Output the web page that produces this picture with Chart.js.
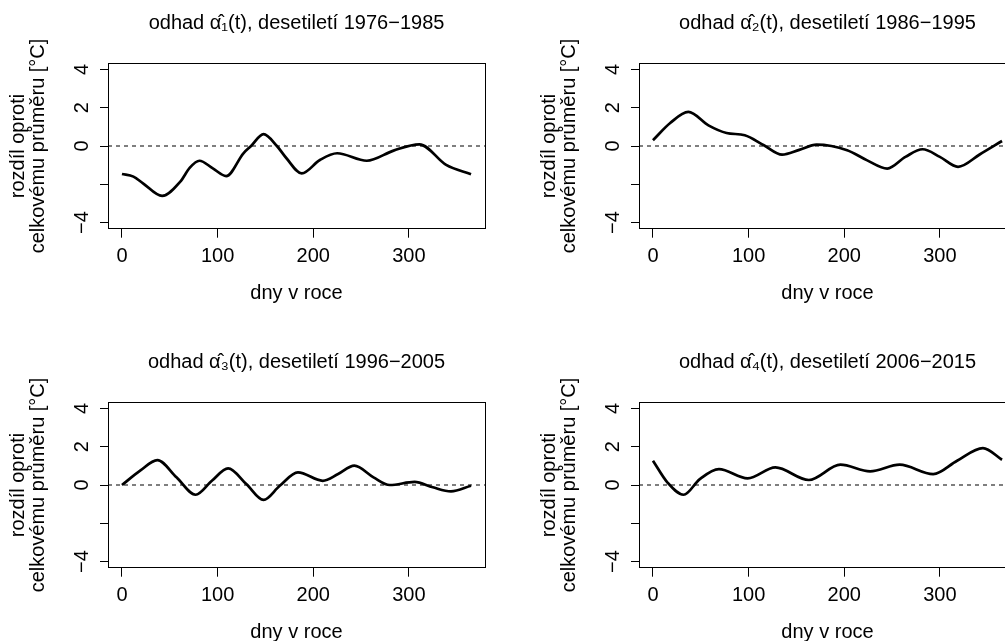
<!DOCTYPE html>
<html>
<head>
<meta charset="utf-8">
<script src="https://cdn.jsdelivr.net/npm/chart.js@4.4.0/dist/chart.umd.min.js"></script>
<style>
  html, body { margin: 0; padding: 0; background: #fff; overflow: hidden; width: 1005px; height: 641px; }
  canvas { position: absolute; }
</style>
</head>
<body>
<canvas id="graf1" width="531" height="320" style="left:0px;top:0px"></canvas>
<canvas id="graf2" width="531" height="320" style="left:531px;top:0px"></canvas>
<canvas id="graf3" width="531" height="320" style="left:0px;top:339px"></canvas>
<canvas id="graf4" width="531" height="320" style="left:531px;top:339px"></canvas>
<script>
// odhady: den v roce -> rozdil oproti prumeru [°C]
const dny1   = [0, 12, 22, 42, 61, 71, 81, 95, 109, 127, 135, 148, 162, 172, 188, 207, 225, 256, 284, 311, 339, 365];
const odhad1 = [-1.46, -1.6, -1.95, -2.61, -1.86, -1.13, -0.77, -1.17, -1.57, -0.38, 0.0, 0.62, 0.0, -0.64, -1.43, -0.73, -0.38, -0.77, -0.24, 0.09, -0.99, -1.48];

const dny2   = [0, 18, 37, 58, 77, 96, 116, 135, 153, 171, 203, 224, 245, 264, 282, 300, 319, 342, 365];
const odhad2 = [0.30, 1.2, 1.78, 1.08, 0.68, 0.56, 0.04, -0.45, -0.2, 0.07, -0.22, -0.75, -1.18, -0.57, -0.17, -0.57, -1.09, -0.43, 0.26];

const dny3   = [0, 19, 37, 57, 77, 94, 111, 130, 148, 165, 184, 210, 226, 243, 263, 280, 306, 325, 344, 365];
const odhad3 = [0.0, 0.75, 1.30, 0.40, -0.51, 0.22, 0.87, 0.05, -0.78, -0.04, 0.66, 0.22, 0.57, 1.01, 0.40, 0.0, 0.16, -0.12, -0.33, -0.04];

const dny4   = [0, 15, 32, 49, 69, 99, 128, 163, 196, 227, 258, 293, 318, 345, 365];
const odhad4 = [1.27, 0.14, -0.51, 0.31, 0.83, 0.35, 0.92, 0.26, 1.06, 0.71, 1.06, 0.57, 1.27, 1.93, 1.32];

const titulky = [
  "odhad \u03B1\u0302\u2081(t), desetiletí 1976\u22121985",
  "odhad \u03B1\u0302\u2082(t), desetiletí 1986\u22121995",
  "odhad \u03B1\u0302\u2083(t), desetiletí 1996\u22122005",
  "odhad \u03B1\u0302\u2084(t), desetiletí 2006\u22122015"
];

const xTicks = [0, 100, 200, 300];
const yTicks = [-4, -2, 0, 2, 4];
const xLimity = [-14.6, 379.6];
const yLimity = [-4.32, 4.32];

Chart.defaults.font.family = "'Liberation Sans', Arial, Helvetica, sans-serif";
Chart.defaults.font.size = 20;
Chart.defaults.color = "#000";

// ramecek kolem plochy grafu (jako box() v R)
const ramecek = {
  id: "ramecek",
  afterDatasetsDraw(chart) {
    const a = chart.chartArea;
    const ctx = chart.ctx;
    ctx.save();
    ctx.strokeStyle = "#000";
    ctx.lineWidth = 1;
    ctx.strokeRect(Math.round(a.left) + 0.5, Math.round(a.top) + 0.5,
                   Math.round(a.right - a.left), Math.round(a.bottom - a.top));
    ctx.restore();
  }
};

function nakresli(id, dny, hodnoty, titulek) {
  const body = dny.map((d, i) => ({ x: d, y: hodnoty[i] }));

  return new Chart(id, {
    type: "line",
    data: {
      datasets: [
        {
          // prerusovana nula
          data: xLimity.map(x => ({ x: x, y: 0 })),
          borderColor: "#000",
          borderWidth: 1,
          borderDash: [4, 4],
          pointRadius: 0
        },
        {
          data: body,
          borderColor: "#000",
          borderWidth: 2.7,
          pointRadius: 0,
          cubicInterpolationMode: "monotone"
        }
      ]
    },
    options: {
      responsive: false,
      animation: false,
      layout: { padding: { right: 46 } },
      plugins: {
        legend: { display: false },
        tooltip: { enabled: false },
        title: {
          display: true,
          text: titulek,
          fullSize: false,
          color: "#000",
          font: { size: 20, weight: "normal", lineHeight: 1.2 },
          padding: { top: 11.7, bottom: 27.6 }
        }
      },
      scales: {
        x: {
          type: "linear",
          min: xLimity[0],
          max: xLimity[1],
          afterBuildTicks: s => { s.ticks = xTicks.map(v => ({ value: v })); },
          afterFit: s => { s.height = 91.3; },
          grid: { drawOnChartArea: false, drawTicks: true, tickLength: 9, color: "#000" },
          border: { display: true, color: "#000" },
          ticks: { padding: 6.8, maxRotation: 0, autoSkip: false },
          title: { display: true, text: "dny v roce", padding: { top: 0, bottom: 14.7 } }
        },
        y: {
          type: "linear",
          min: yLimity[0],
          max: yLimity[1],
          afterBuildTicks: s => { s.ticks = yTicks.map(v => ({ value: v })); },
          afterFit: s => { s.width = 108; },
          grid: { drawOnChartArea: false, drawTicks: true, tickLength: 8, color: "#000" },
          border: { display: true, color: "#000" },
          ticks: {
            minRotation: 90,
            maxRotation: 90,
            crossAlign: "center",
            padding: 6,
            autoSkip: false,
            callback: v => v === -2 ? "" : String(v).replace("-", "\u2212")
          },
          title: {
            display: true,
            text: ["rozdíl oproti", "celkovému průměru [°C]"],
            font: { size: 20, lineHeight: 1.0 },
            padding: { top: 8, bottom: 0 }
          }
        }
      }
    },
    plugins: [ramecek]
  });
}

nakresli("graf1", dny1, odhad1, titulky[0]);
nakresli("graf2", dny2, odhad2, titulky[1]);
nakresli("graf3", dny3, odhad3, titulky[2]);
nakresli("graf4", dny4, odhad4, titulky[3]);
</script>
</body>
</html>
